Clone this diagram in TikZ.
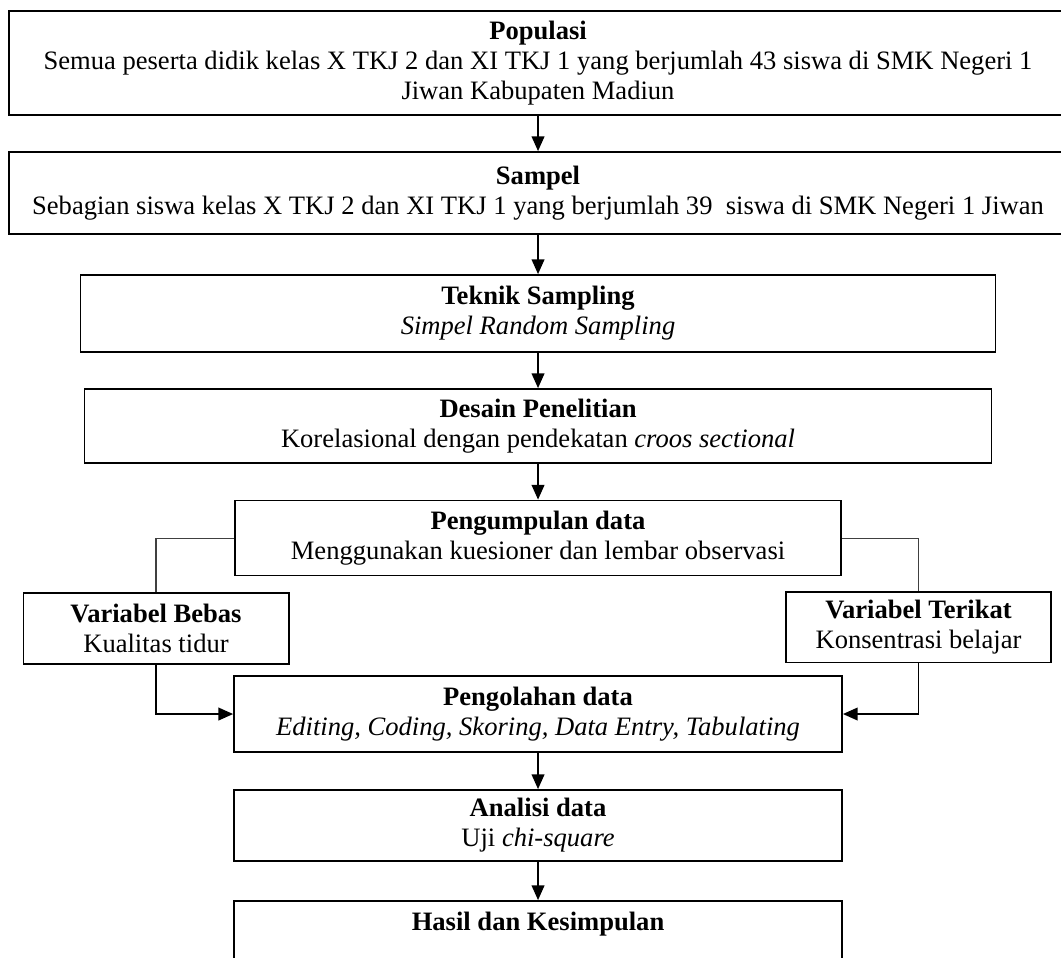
\documentclass[tikz,border=0pt]{standalone}
\usepackage{fontspec}
\setmainfont{Liberation Serif}
\usetikzlibrary{arrows.meta, positioning}

\begin{document}
\begin{tikzpicture}[
    stage/.style={rectangle, draw=black, line width=0.85pt, align=center, inner sep=0pt, font=\fontsize{12.6}{14.3}\selectfont},
    varbox/.style={stage, minimum width=4.42cm, minimum height=1.18cm},
    link/.style={draw=black!75, line width=0.5pt},
    flow/.style={draw=black, line width=0.9pt, -{Triangle[length=7pt, width=6pt]}}
]
    \clip (0, 0) rectangle (17.683, -15.95);

    % Main column
    \node[stage, minimum width=17.633cm, minimum height=1.733cm] (pop) at (8.967, -1.05)
        {\textbf{Populasi}\\Semua peserta didik kelas X TKJ 2 dan XI TKJ 1 yang berjumlah 43 siswa di SMK Negeri 1\\Jiwan Kabupaten Madiun};
    \node[stage, minimum width=17.633cm, minimum height=1.367cm] (sampel) at (8.967, -3.217)
        {\textbf{Sampel}\\Sebagian siswa kelas X TKJ 2 dan XI TKJ 1 yang berjumlah 39~ siswa di SMK Negeri 1 Jiwan};
    \node[stage, minimum width=15.25cm, minimum height=1.283cm] (teknik) at (8.967, -5.225)
        {\textbf{Teknik Sampling}\\\textit{Simpel Random Sampling}};
    \node[stage, minimum width=15.117cm, minimum height=1.233cm] (desain) at (8.967, -7.1)
        {\textbf{Desain Penelitian}\\Korelasional dengan pendekatan \textit{croos sectional}};
    \node[stage, minimum width=10.1cm, minimum height=1.25cm] (kumpul) at (8.967, -8.967)
        {\textbf{Pengumpulan data}\\Menggunakan kuesioner dan lembar observasi};
    \node[stage, minimum width=10.133cm, minimum height=1.267cm] (olah) at (8.967, -11.9)
        {\textbf{Pengolahan data}\\\textit{Editing, Coding, Skoring, Data Entry, Tabulating}};
    \node[stage, minimum width=10.133cm, minimum height=1.183cm] (analisis) at (8.967, -13.758)
        {\textbf{Analisi data}\\Uji \textit{chi-square}};
    \node[stage, minimum width=10.133cm, minimum height=1.317cm] (hasil) at (8.967, -15.675)
        {\textbf{Hasil dan Kesimpulan}\\\strut};

    % Variables
    \node[varbox] (bebas) at (2.6, -10.475) {\textbf{Variabel Bebas}\\Kualitas tidur};
    \node[varbox] (terikat) at (15.308, -10.45) {\textbf{Variabel Terikat}\\Konsentrasi belajar};

    % Arrows
    \draw[flow] (pop) -- (sampel);
    \draw[flow] (sampel) -- (teknik);
    \draw[flow] (teknik) -- (desain);
    \draw[flow] (desain) -- (kumpul);
    \draw[flow] (olah) -- (analisis);
    \draw[flow] (analisis) -- (hasil);

    \draw[link] (kumpul.west) -| (bebas.north);
    \draw[link] (kumpul.east) -| (terikat.north);
    \draw[link] (bebas.south) |- (olah.west) [flow];
    \draw[link] (terikat.south) |- (olah.east) [flow];
\end{tikzpicture}
\end{document}
